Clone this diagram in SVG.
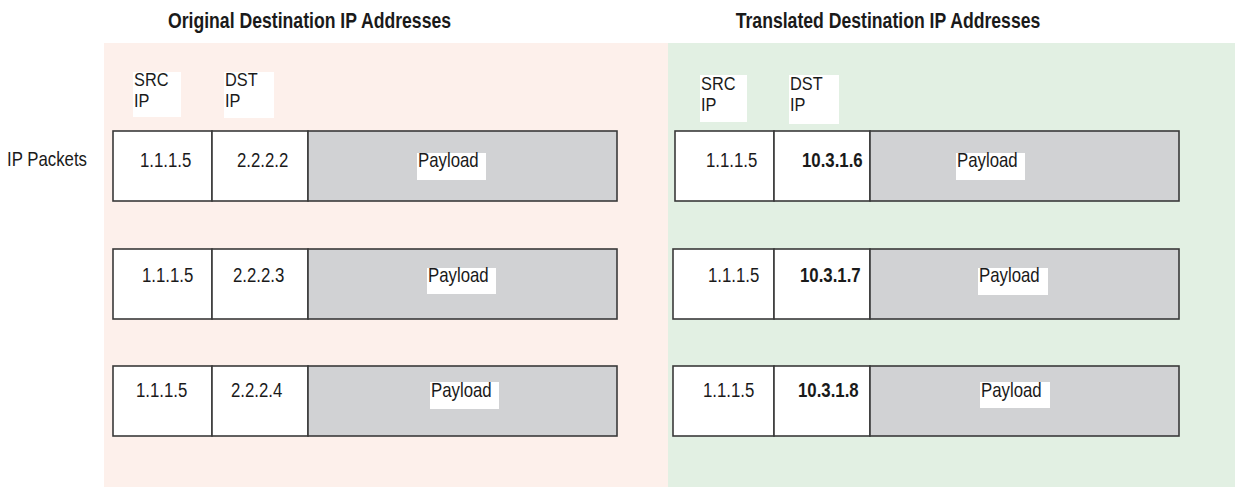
<svg xmlns="http://www.w3.org/2000/svg" width="1241" height="487" viewBox="0 0 1241 487">
<style>
text{font-family:"Liberation Sans",Arial,sans-serif;font-size:20.5px;fill:#1a1a1a;transform:scaleX(0.82);transform-box:fill-box;transform-origin:0 0}
.t{font-weight:bold;font-size:21.5px;text-anchor:middle;transform-origin:50% 50%}
.b{font-weight:bold}
.h{font-size:19px;transform:scaleX(0.86)}
.c{fill:#fff;stroke:#3a3a3a;stroke-width:1.6}
.p{fill:#d1d2d4;stroke:#3a3a3a;stroke-width:1.6}
.w{fill:#fff}
</style>
<rect width="1241" height="487" fill="#fff"/>
<g id="panel-original">
<rect x="104" y="43" width="564" height="444" fill="#fdf0eb"/>
<text class="t" x="309.5" y="28">Original Destination IP Addresses</text>
</g>
<g id="panel-translated">
<rect x="668" y="43" width="567" height="444" fill="#e2f0e3"/>
<text class="t" x="888" y="28">Translated Destination IP Addresses</text>
</g>
<g id="label-ip-packets"><text x="7" y="166">IP Packets</text></g>
<g id="headers-left">
<rect class="w" x="133" y="72" width="48" height="45"/>
<text class="h" x="134" y="86">SRC<tspan x="134" dy="21.5">IP</tspan></text>
<rect class="w" x="224" y="72" width="50" height="46"/>
<text class="h" x="225" y="86">DST<tspan x="225" dy="21.5">IP</tspan></text>
</g>
<g id="headers-right">
<rect class="w" x="700" y="75" width="47" height="47"/>
<text class="h" x="701" y="90">SRC<tspan x="701" dy="21.5">IP</tspan></text>
<rect class="w" x="789" y="75" width="50" height="49"/>
<text class="h" x="790" y="90">DST<tspan x="790" dy="21.5">IP</tspan></text>
</g>
<g id="packet-l1">
<rect class="c" x="113" y="131" width="99" height="70"/>
<rect class="c" x="212" y="131" width="96" height="70"/>
<rect class="p" x="308" y="131" width="309" height="70"/>
<text x="140" y="167">1.1.1.5</text><text x="237" y="167">2.2.2.2</text>
<rect class="w" x="417" y="153" width="69" height="27"/><text x="418" y="167">Payload</text>
</g>
<g id="packet-l2">
<rect class="c" x="113" y="249" width="99" height="70"/>
<rect class="c" x="212" y="249" width="96" height="70"/>
<rect class="p" x="308" y="249" width="309" height="70"/>
<text x="142" y="282">1.1.1.5</text><text x="233" y="282">2.2.2.3</text>
<rect class="w" x="427" y="268" width="69" height="26"/><text x="428" y="282">Payload</text>
</g>
<g id="packet-l3">
<rect class="c" x="113" y="366" width="99" height="70"/>
<rect class="c" x="212" y="366" width="96" height="70"/>
<rect class="p" x="308" y="366" width="309" height="70"/>
<text x="136" y="397">1.1.1.5</text><text x="231" y="397">2.2.2.4</text>
<rect class="w" x="430" y="382" width="69" height="27"/><text x="431" y="397">Payload</text>
</g>
<g id="packet-r1">
<rect class="c" x="675" y="131" width="99" height="70"/>
<rect class="c" x="774" y="131" width="96" height="70"/>
<rect class="p" x="870" y="131" width="309" height="70"/>
<text x="706" y="167">1.1.1.5</text><text class="b" x="802" y="167">10.3.1.6</text>
<rect class="w" x="956" y="153" width="69" height="27"/><text x="957" y="167">Payload</text>
</g>
<g id="packet-r2">
<rect class="c" x="673" y="249" width="101" height="70"/>
<rect class="c" x="774" y="249" width="96" height="70"/>
<rect class="p" x="870" y="249" width="309" height="70"/>
<text x="708" y="282">1.1.1.5</text><text class="b" x="800" y="282">10.3.1.7</text>
<rect class="w" x="978" y="268" width="70" height="27"/><text x="979" y="282">Payload</text>
</g>
<g id="packet-r3">
<rect class="c" x="673" y="366" width="101" height="70"/>
<rect class="c" x="774" y="366" width="96" height="70"/>
<rect class="p" x="870" y="366" width="309" height="70"/>
<text x="703" y="397">1.1.1.5</text><text class="b" x="798" y="397">10.3.1.8</text>
<rect class="w" x="980" y="382" width="70" height="26"/><text x="981" y="397">Payload</text>
</g>
<g id="connectors"></g>
</svg>
